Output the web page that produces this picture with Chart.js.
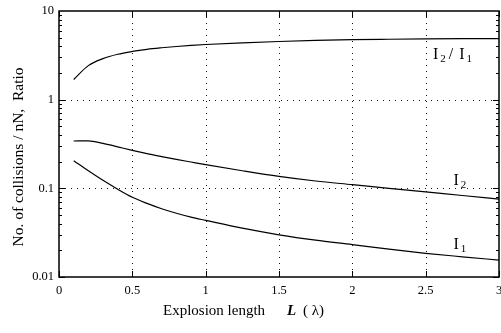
<!DOCTYPE html>
<html><head><meta charset="utf-8">
<script src="https://cdn.jsdelivr.net/npm/chart.js@4/dist/chart.umd.min.js"></script>
<style>html,body{margin:0;padding:0;background:#fff;}#wrap{width:501px;height:333px;position:relative;}</style>
</head><body><div id="wrap"><canvas id="c" width="501" height="333"></canvas></div>
<script>
const lengths = [0.1,0.2,0.3,0.4,0.5,0.6,0.7,0.8,0.9,1,1.25,1.5,1.75,2,2.25,2.5,2.75,3];
const I1 = [0.205,0.158,0.123,0.0977,0.0792,0.0676,0.0588,0.0523,0.0473,0.0435,0.0355,0.0299,0.026,0.0232,0.0206,0.0185,0.0169,0.0155];
const I2 = [0.342,0.343,0.322,0.294,0.268,0.246,0.228,0.212,0.198,0.185,0.158,0.1365,0.121,0.11,0.1,0.091,0.083,0.0755];
const ratio = [1.69,2.42,2.9,3.25,3.5,3.7,3.85,3.98,4.09,4.19,4.38,4.53,4.66,4.75,4.8,4.84,4.87,4.89];
const xTicks = [0,0.5,1,1.5,2,2.5,3];
const yTicks = [0.01,0.1,1,10];
const curveLabels = [
  {main:'I', sub:'2', rest:'/', main2:'I', sub2:'1', x:2.55, y:2.86},
  {main:'I', sub:'2', x:2.69, y:0.1086},
  {main:'I', sub:'1', x:2.69, y:0.0206}
];
const xTitle = 'Explosion length';
const yTitle = 'No. of collisions / nN,  Ratio';

const SERIF = '"Liberation Serif", "Times New Roman", serif';
const mk = (arr) => lengths.map((x,i)=>({x:x,y:arr[i]}));

const deco = {
  id:'deco',
  beforeDatasetsDraw(chart){
    const ctx = chart.ctx, a = chart.chartArea;
    const xs = chart.scales.x, ys = chart.scales.y;
    ctx.save();
    ctx.strokeStyle = '#111'; ctx.lineWidth = 1; ctx.setLineDash([1,5]);
    xTicks.forEach(v=>{ if(v<=0||v>=3) return;
      const px = Math.round(xs.getPixelForValue(v))+0.5;
      ctx.beginPath(); ctx.moveTo(px,a.top); ctx.lineTo(px,a.bottom); ctx.stroke(); });
    yTicks.forEach(v=>{ if(v<=0.01||v>=10) return;
      const py = Math.round(ys.getPixelForValue(v))+0.5;
      ctx.beginPath(); ctx.moveTo(a.left,py); ctx.lineTo(a.right,py); ctx.stroke(); });
    ctx.setLineDash([]);
    ctx.strokeStyle = '#000'; ctx.lineWidth = 1;
    for (let d=0.01; d<10; d*=10){
      for (let m=1; m<10; m++){
        const v = d*m; const py = Math.round(ys.getPixelForValue(v))+0.5;
        const len = m===1?6:3;
        ctx.beginPath(); ctx.moveTo(a.left,py); ctx.lineTo(a.left+len,py);
        ctx.moveTo(a.right,py); ctx.lineTo(a.right-len,py); ctx.stroke();
      }
    }
    xTicks.forEach(v=>{
      const px = Math.round(xs.getPixelForValue(v))+0.5;
      ctx.beginPath(); ctx.moveTo(px,a.bottom); ctx.lineTo(px,a.bottom-6);
      ctx.moveTo(px,a.top); ctx.lineTo(px,a.top+6); ctx.stroke();
    });
    ctx.lineWidth = 1.5;
    ctx.strokeRect(a.left, a.top, a.right-a.left, a.bottom-a.top);
    ctx.restore();
  },
  afterDatasetsDraw(chart){
    const ctx = chart.ctx;
    const xs = chart.scales.x, ys = chart.scales.y;
    ctx.save();
    ctx.fillStyle = '#000'; ctx.textBaseline = 'alphabetic'; ctx.textAlign = 'left';
    curveLabels.forEach(l=>{
      let x = xs.getPixelForValue(l.x), y = ys.getPixelForValue(l.y);
      ctx.font = '16px '+SERIF; ctx.fillText(l.main,x,y); x += ctx.measureText(l.main).width+2;
      ctx.font = '11px '+SERIF; ctx.fillText(l.sub,x,y+3); x += ctx.measureText(l.sub).width+3;
      if (l.rest){
        ctx.font = '16px '+SERIF; ctx.fillText(l.rest,x,y); x += ctx.measureText(l.rest).width+6;
        ctx.fillText(l.main2,x,y); x += ctx.measureText(l.main2).width+2;
        ctx.font = '11px '+SERIF; ctx.fillText(l.sub2,x,y+3);
      }
    });
    const y = 315;
    ctx.font = '15px '+SERIF; ctx.fillText(xTitle,163,y);
    ctx.font = 'italic bold 15px '+SERIF; ctx.fillText('L',287,y);
    ctx.font = '15px '+SERIF; ctx.fillText('( λ)',303,y);
    ctx.translate(23,157); ctx.rotate(-Math.PI/2);
    ctx.textAlign = 'center'; ctx.font = '15.5px '+SERIF; ctx.fillText(yTitle,0,0);
    ctx.restore();
  }
};

const lineStyle = {borderColor:'#000', borderWidth:1.2, pointRadius:0, fill:false, tension:0.3, cubicInterpolationMode:'monotone'};
new Chart(document.getElementById('c'), {
  type:'line',
  data:{datasets:[
    Object.assign({label:'I2/I1', data:mk(ratio)}, lineStyle),
    Object.assign({label:'I2', data:mk(I2)}, lineStyle),
    Object.assign({label:'I1', data:mk(I1)}, lineStyle)
  ]},
  options:{
    responsive:false, animation:false, devicePixelRatio:1,
    layout:{padding:{left:0,right:2,top:11,bottom:0}},
    plugins:{legend:{display:false}, tooltip:{enabled:false}},
    scales:{
      x:{type:'linear', min:0, max:3,
        afterFit(s){ s.height = 56; s.paddingRight = 0; s.paddingLeft = 0; },
        afterBuildTicks(s){ s.ticks = xTicks.map(v=>({value:v})); },
        grid:{display:false, drawTicks:false}, border:{display:false},
        ticks:{color:'#000', font:{family:SERIF, size:12.5}, padding:6, maxRotation:0,
          callback:(v)=>String(v)}},
      y:{type:'logarithmic', min:0.01, max:10,
        afterFit(s){ s.width = 59; s.paddingTop = 0; s.paddingBottom = 0; },
        afterBuildTicks(s){ s.ticks = yTicks.map(v=>({value:v})); },
        grid:{display:false, drawTicks:false}, border:{display:false},
        ticks:{color:'#000', font:{family:SERIF, size:12.5}, padding:5,
          callback:(v)=>String(v)}}
    }
  },
  plugins:[deco]
});
</script></body></html>
